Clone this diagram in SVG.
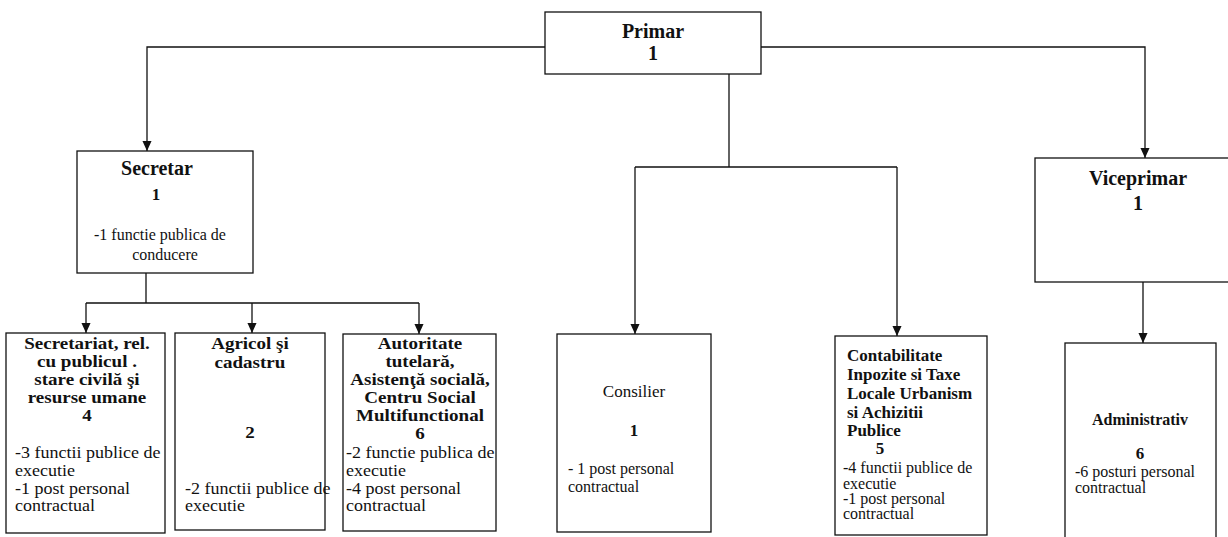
<svg xmlns="http://www.w3.org/2000/svg" width="1228" height="537" viewBox="0 0 1228 537">
<style>
.box{fill:#fff;stroke:#111;stroke-width:1.3}
.ln{fill:none;stroke:#111;stroke-width:1.3}
text{font-family:"Liberation Serif","Times New Roman",serif;fill:#111}
.b{font-weight:bold}
.c{text-anchor:middle}
.s16{font-size:16px}
.s17{font-size:17px}
.s20{font-size:20px}
</style>
<defs>
<marker id="ar" markerUnits="userSpaceOnUse" markerWidth="10" markerHeight="11" refX="11" refY="5" orient="auto" viewBox="0 0 11 10">
<path d="M0,0 L11,5 L0,10 z" fill="#111"/>
</marker>
</defs>
<rect width="1228" height="537" fill="#fff"/>
<g id="connectors">
<path class="ln" d="M545,47 H147 V151" marker-end="url(#ar)"/>
<path class="ln" d="M761,47 H1145 V158" marker-end="url(#ar)"/>
<path class="ln" d="M729,74 V167 M635,167 H897"/>
<path class="ln" d="M635,167 V334" marker-end="url(#ar)"/>
<path class="ln" d="M897,167 V336" marker-end="url(#ar)"/>
<path class="ln" d="M146,273 V303 M86,303 H419"/>
<path class="ln" d="M86,303 V333" marker-end="url(#ar)"/>
<path class="ln" d="M252,303 V333" marker-end="url(#ar)"/>
<path class="ln" d="M419,303 V334" marker-end="url(#ar)"/>
<path class="ln" d="M1143,282 V343" marker-end="url(#ar)"/>
</g>
<g id="primar">
<rect class="box" x="545" y="12" width="216" height="62"/>
<text class="b c s20" x="653" y="38">Primar</text>
<text class="b c s20" x="653" y="60">1</text>
</g>
<g id="secretar">
<rect class="box" x="77" y="151" width="176" height="122"/>
<text class="b c s20" x="157" y="175">Secretar</text>
<text class="b c s17" x="156" y="200">1</text>
<text class="c s16" x="160" y="240">-1 functie publica de</text>
<text class="c s16" x="165" y="260">conducere</text>
</g>
<g id="viceprimar">
<rect class="box" x="1035" y="158" width="220" height="124"/>
<text class="b c s20" x="1138" y="185">Viceprimar</text>
<text class="b c s20" x="1138" y="210">1</text>
</g>
<g id="secretariat">
<rect class="box" x="6" y="333" width="159" height="200"/>
<g transform="scale(1.12,1)">
<text class="b c s17" x="77.68" y="349">Secretariat, rel.</text>
<text class="b c s17" x="77.68" y="367">cu publicul .</text>
<text class="b c s17" x="77.68" y="385">stare civilă şi</text>
<text class="b c s17" x="77.68" y="403">resurse umane</text>
<text class="b c s17" x="77.68" y="421">4</text>
</g>
<g transform="scale(1.06,1)">
<text class="s17" x="14.15" y="458">-3 functii publice de</text>
<text class="s17" x="14.15" y="476">executie</text>
<text class="s17" x="14.15" y="494">-1 post  personal</text>
<text class="s17" x="14.15" y="511">contractual</text>
</g>
</g>
<g id="agricol">
<rect class="box" x="175" y="333" width="150" height="197"/>
<g transform="scale(1.12,1)">
<text class="b c s17" x="223.21" y="349">Agricol şi</text>
<text class="b c s17" x="223.21" y="368">cadastru</text>
<text class="b c s17" x="223.21" y="438">2</text>
</g>
<g transform="scale(1.06,1)">
<text class="s17" x="174.53" y="494">-2 functii publice de</text>
<text class="s17" x="174.53" y="511">executie</text>
</g>
</g>
<g id="autoritate">
<rect class="box" x="343" y="334" width="153" height="197"/>
<g transform="scale(1.12,1)">
<text class="b c s17" x="375" y="349">Autoritate</text>
<text class="b c s17" x="375" y="367">tutelară,</text>
<text class="b c s17" x="375" y="385">Asistenţă socială,</text>
<text class="b c s17" x="375" y="403">Centru Social</text>
<text class="b c s17" x="375" y="421">Multifunctional</text>
<text class="b c s17" x="375" y="439">6</text>
</g>
<g transform="scale(1.06,1)">
<text class="s17" x="326.42" y="458">-2 functie publica de</text>
<text class="s17" x="326.42" y="476">executie</text>
<text class="s17" x="326.42" y="494">-4 post personal</text>
<text class="s17" x="326.42" y="511">contractual</text>
</g>
</g>
<g id="consilier">
<rect class="box" x="557" y="334" width="154" height="198"/>
<text class="c s17" x="634" y="397">Consilier</text>
<text class="b c s17" x="634" y="436">1</text>
<text class="s16" x="568" y="474">- 1 post personal</text>
<text class="s16" x="568" y="492">contractual</text>
</g>
<g id="contabilitate">
<rect class="box" x="835" y="336" width="152" height="199"/>
<text class="b s17" x="847" y="361">Contabilitate</text>
<text class="b s17" x="847" y="380">Inpozite si Taxe</text>
<text class="b s17" x="847" y="399">Locale Urbanism</text>
<text class="b s17" x="847" y="418">si Achizitii</text>
<text class="b s17" x="847" y="436">Publice</text>
<text class="b c s17" x="880" y="454">5</text>
<text class="s16" x="843" y="473">-4 functii publice de</text>
<text class="s16" x="843" y="489">executie</text>
<text class="s16" x="843" y="504">-1 post personal</text>
<text class="s16" x="843" y="519">contractual</text>
</g>
<g id="administrativ">
<rect class="box" x="1065" y="343" width="151" height="205"/>
<text class="b c s16" x="1140" y="425">Administrativ</text>
<text class="b c s17" x="1140" y="459">6</text>
<text class="s16" x="1075" y="477">-6 posturi personal</text>
<text class="s16" x="1075" y="493">contractual</text>
</g>
</svg>
